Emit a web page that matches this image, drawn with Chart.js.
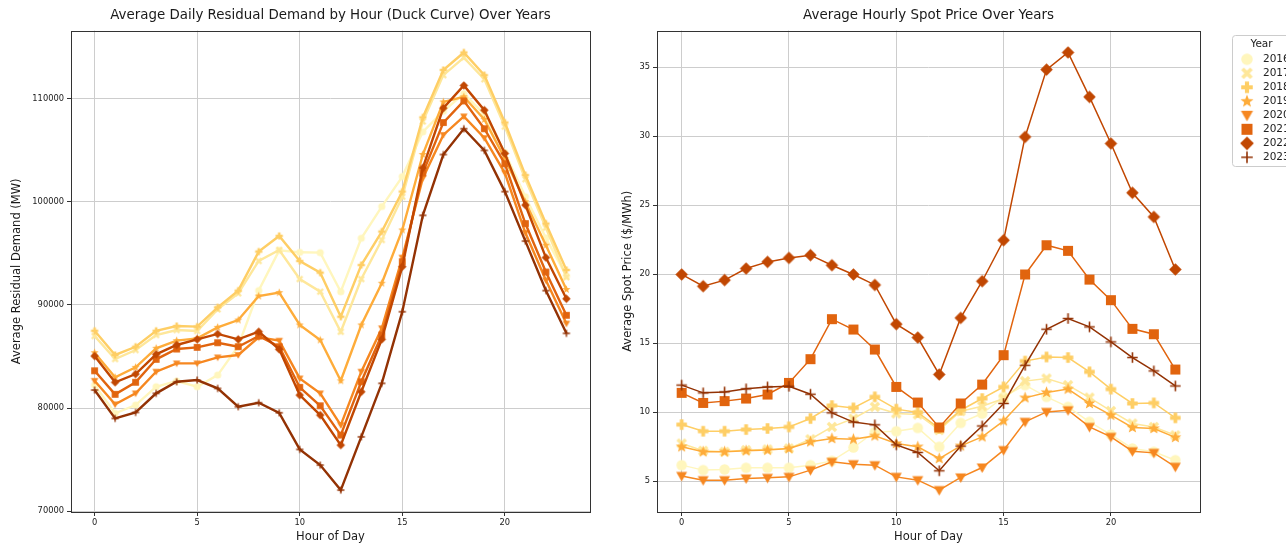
<!DOCTYPE html>
<html lang="en">
<head>
<meta charset="UTF-8">
<title>Residual Demand and Spot Price by Hour</title>
<script src="https://cdn.jsdelivr.net/npm/chart.js"></script>
<style>
  html, body { margin: 0; padding: 0; background: #fff; overflow: hidden; width: 1286px; height: 544px; }
  #demandChart { position: absolute; left: 0; top: 0; }
  #priceChart { position: absolute; left: 600px; top: 0; }
</style>
</head>
<body>
<canvas id="demandChart" width="600" height="544"></canvas>
<canvas id="priceChart" width="700" height="544"></canvas>
<script>
// ---- data ----
const hours = [0, 1, 2, 3, 4, 5, 6, 7, 8, 9, 10, 11, 12, 13, 14, 15, 16, 17, 18, 19, 20, 21, 22, 23];
const years = ['2016', '2017', '2018', '2019', '2020', '2021', '2022', '2023'];
const xTicks = [0, 5, 10, 15, 20];
const demandTicks = [70000, 80000, 90000, 100000, 110000];
const priceTicks = [5, 10, 15, 20, 25, 30, 35];

// average residual demand (MW)
const demand2016 = [82230, 79490, 80290, 82070, 82620, 82070, 83200, 86000, 91400, 95300, 95110, 95080, 91290, 96470, 99550, 102460, 106800, 108800, 110500, 108500, 104800, 100500, 96500, 92800];
const demand2017 = [86990, 84760, 85630, 87090, 87570, 87480, 89580, 91130, 94270, 95340, 92520, 91290, 87400, 92520, 96310, 100500, 107800, 112300, 114000, 111900, 107300, 102200, 97500, 92700];
const demand2018 = [87500, 85150, 85950, 87500, 87960, 87900, 89770, 91390, 95180, 96700, 94270, 93140, 88860, 93880, 97120, 101000, 108200, 112800, 114500, 112300, 107700, 102600, 97900, 93400];
const demand2019 = [85370, 82980, 83950, 85800, 86540, 86760, 87830, 88540, 90870, 91200, 88060, 86600, 82650, 88060, 92110, 97280, 104600, 109700, 110200, 108000, 104200, 100000, 95800, 91500];
const demand2020 = [82650, 80360, 81430, 83530, 84340, 84340, 84920, 85150, 86860, 86540, 82880, 81430, 78350, 83530, 87740, 94600, 102300, 106500, 108300, 106200, 102800, 97000, 92400, 88200];
const demand2021 = [83620, 81330, 82500, 84730, 85730, 85890, 86340, 85950, 86990, 85950, 82010, 80220, 77380, 82550, 87090, 94200, 102800, 107700, 109800, 107100, 103700, 97900, 93200, 89000];
const demand2022 = [85050, 82500, 83300, 85210, 86120, 86670, 87190, 86670, 87410, 85700, 81260, 79320, 76410, 81580, 86670, 93720, 103300, 109100, 111300, 108900, 104700, 99700, 94600, 90600];
const demand2023 = [81750, 79000, 79580, 81430, 82550, 82720, 81910, 80130, 80520, 79540, 75990, 74470, 72040, 77210, 82400, 89350, 98700, 104600, 107100, 105000, 101000, 96200, 91400, 87250];

// average spot price ($/MWh)
const price2016 = [6.16, 5.80, 5.85, 5.97, 5.97, 5.97, 6.16, 6.47, 7.44, 8.57, 8.62, 8.86, 7.49, 9.22, 9.90, 11.11, 11.96, 11.11, 10.38, 9.30, 8.38, 7.37, 7.13, 6.52];
const price2017 = [7.73, 7.20, 7.13, 7.25, 7.30, 7.37, 8.04, 8.93, 9.54, 10.38, 9.90, 9.83, 8.70, 10.07, 10.43, 10.99, 12.25, 12.44, 11.96, 11.06, 10.09, 9.18, 8.93, 8.33];
const price2018 = [9.10, 8.62, 8.62, 8.74, 8.82, 8.93, 9.54, 10.48, 10.31, 11.11, 10.22, 9.98, 8.82, 10.14, 10.99, 11.83, 13.70, 14.00, 13.96, 12.92, 11.67, 10.63, 10.67, 9.59];
const price2019 = [7.49, 7.13, 7.13, 7.20, 7.25, 7.37, 7.85, 8.09, 8.04, 8.28, 7.73, 7.49, 6.64, 7.56, 8.21, 9.37, 11.04, 11.43, 11.67, 10.63, 9.78, 8.89, 8.82, 8.17];
const price2020 = [5.38, 5.07, 5.07, 5.20, 5.24, 5.31, 5.80, 6.40, 6.23, 6.16, 5.31, 5.07, 4.35, 5.27, 5.99, 7.25, 9.30, 10.02, 10.14, 8.93, 8.21, 7.17, 7.05, 6.04];
const price2021 = [11.40, 10.67, 10.80, 10.99, 11.28, 12.12, 13.84, 16.74, 15.99, 14.54, 11.83, 10.70, 8.89, 10.63, 12.00, 14.13, 19.98, 22.10, 21.69, 19.61, 18.12, 16.04, 15.65, 13.09];
const price2022 = [19.98, 19.13, 19.57, 20.41, 20.89, 21.18, 21.38, 20.65, 19.98, 19.22, 16.38, 15.41, 12.73, 16.83, 19.49, 22.46, 29.95, 34.83, 36.07, 32.85, 29.47, 25.90, 24.15, 20.34];
const price2023 = [11.96, 11.40, 11.47, 11.69, 11.83, 11.88, 11.30, 9.95, 9.28, 9.08, 7.63, 7.08, 5.75, 7.54, 9.00, 10.63, 13.40, 16.01, 16.79, 16.18, 15.09, 13.96, 12.99, 11.90];

const demandSeries = [demand2016, demand2017, demand2018, demand2019, demand2020, demand2021, demand2022, demand2023];
const priceSeries = [price2016, price2017, price2018, price2019, price2020, price2021, price2022, price2023];

// ---- styling ----
const FONT = '"DejaVu Sans", Verdana, sans-serif';
const colors = ['#fff6bd', '#fee79a', '#fece65', '#feac3a', '#f68720', '#e1640e', '#c14702', '#933204'];
const shapes = ['o', 'X', 'P', '*', 'v', 's', 'D', '+'];
const bigSize = { o: 10.5, X: 10, P: 10.5, '*': 12.5, v: 11, s: 10, D: 12.5, '+': 10.5 };

// draws a filled matplotlib-like marker into a small canvas used as pointStyle
function makeMarker(shape, color, size, lw) {
  const r = size / 2;
  const dim = Math.ceil(size + 4);
  const c = document.createElement('canvas');
  c.width = dim; c.height = dim;
  const g = c.getContext('2d');
  const m = dim / 2;
  g.fillStyle = color;
  g.strokeStyle = color;
  g.beginPath();
  if (shape === 'o') {
    g.arc(m, m, r, 0, Math.PI * 2);
    g.fill();
  } else if (shape === 's') {
    g.rect(m - r, m - r, 2 * r, 2 * r);
    g.fill();
  } else if (shape === 'D') {
    g.moveTo(m, m - r); g.lineTo(m + r, m); g.lineTo(m, m + r); g.lineTo(m - r, m);
    g.closePath(); g.fill();
  } else if (shape === 'v') {
    g.moveTo(m - r, m - r * 0.75); g.lineTo(m + r, m - r * 0.75); g.lineTo(m, m + r);
    g.closePath(); g.fill();
  } else if (shape === '*') {
    for (let k = 0; k < 10; k++) {
      const a = -Math.PI / 2 + k * Math.PI / 5;
      const rr = k % 2 ? r * 0.42 : r;
      g.lineTo(m + rr * Math.cos(a), m + rr * Math.sin(a));
    }
    g.closePath(); g.fill();
  } else if (shape === 'P' || shape === 'X') {
    g.translate(m, m);
    if (shape === 'X') g.rotate(Math.PI / 4);
    const w = shape === 'X' ? r * 0.34 : r * 0.36;
    const L = shape === 'X' ? r * 1.15 : r;
    const pts = [[-w, -L], [w, -L], [w, -w], [L, -w], [L, w], [w, w], [w, L], [-w, L], [-w, w], [-L, w], [-L, -w], [-w, -w]];
    pts.forEach((p, i) => i ? g.lineTo(p[0], p[1]) : g.moveTo(p[0], p[1]));
    g.closePath(); g.fill();
  } else if (shape === '+') {
    g.lineWidth = lw;
    g.moveTo(m - r, m); g.lineTo(m + r, m);
    g.moveTo(m, m - r); g.lineTo(m, m + r);
    g.stroke();
  }
  return c;
}

function paddedRange(series) {
  const all = series.flat();
  const lo = Math.min(...all), hi = Math.max(...all);
  const pad = (hi - lo) * 0.05;
  return [lo - pad, hi + pad];
}

function buildDatasets(series, scale, lineWidth) {
  return series.map((vals, i) => ({
    label: years[i],
    data: hours.map((h, k) => ({ x: h, y: vals[k] })),
    borderColor: colors[i],
    backgroundColor: colors[i],
    borderWidth: lineWidth,
    tension: 0,
    pointStyle: makeMarker(shapes[i], colors[i], bigSize[shapes[i]] * scale, scale < 1 ? 1.4 : 1.6),
    pointRadius: 4,
    pointHoverRadius: 4,
    order: years.length - 1 - i
  }));
}

// spines on all four sides
const framePlugin = {
  id: 'frame',
  afterDraw(chart) {
    const a = chart.chartArea, ctx = chart.ctx;
    ctx.save();
    ctx.strokeStyle = '#333';
    ctx.lineWidth = 1;
    const l = Math.round(a.left) + 0.5, t = Math.round(a.top) + 0.5;
    ctx.strokeRect(l, t, Math.round(a.right) - Math.round(a.left), Math.round(a.bottom) - Math.round(a.top));
    ctx.restore();
  }
};

const legendMarks = shapes.map((s, i) => makeMarker(s, colors[i], bigSize[s] * 1.1, 1.6));
const yearLegend = {
  id: 'yearLegend',
  afterDraw(chart) {
    const ctx = chart.ctx;
    const bx = chart.chartArea.right + 32, by = 35;
    ctx.save();
    ctx.fillStyle = 'rgba(255,255,255,0.85)';
    ctx.strokeStyle = '#cccccc';
    ctx.lineWidth = 1;
    ctx.beginPath();
    ctx.roundRect(bx + 0.5, by + 0.5, 60, 131, 3);
    ctx.fill();
    ctx.stroke();
    ctx.fillStyle = '#222';
    ctx.font = '10.5px ' + FONT;
    ctx.textBaseline = 'middle';
    ctx.textAlign = 'center';
    ctx.fillText('Year', bx + 29.5, by + 9.5);
    ctx.textAlign = 'left';
    years.forEach((y, i) => {
      const cy = by + 24.3 + i * 14.0;
      const mk = legendMarks[i];
      ctx.drawImage(mk, bx + 15 - mk.width / 2, cy - mk.height / 2);
      ctx.fillText(y, bx + 31, cy);
    });
    ctx.restore();
  }
};

function makeOptions(cfg) {
  const tickFont = { family: FONT, size: 8.3 };
  const labelFont = { family: FONT, size: 11.5 };
  return {
    responsive: false,
    animation: false,
    devicePixelRatio: 1,
    layout: { padding: { left: 0, right: cfg.padRight, top: 0, bottom: 0 } },
    plugins: {
      legend: { display: false },
      tooltip: { enabled: false },
      title: {
        display: true,
        text: cfg.title,
        fullSize: false,
        color: '#1a1a1a',
        font: { family: FONT, size: 13.4, weight: 'normal' },
        padding: { top: 7.5, bottom: 7 }
      }
    },
    scales: {
      x: {
        type: 'linear',
        min: -1.15,
        max: 24.15,
        afterBuildTicks: s => { s.ticks = xTicks.map(v => ({ value: v })); },
        afterFit: s => { s.height = 32; },
        border: { display: false },
        grid: { color: '#cdcdcd', lineWidth: 1, tickLength: 4, tickColor: '#333' },
        ticks: { font: tickFont, color: '#222', padding: 2, maxRotation: 0, callback: v => String(v) },
        title: { display: true, text: 'Hour of Day', color: '#1a1a1a', font: labelFont, padding: { top: 0, bottom: 0 } }
      },
      y: {
        type: 'linear',
        min: cfg.range[0],
        max: cfg.range[1],
        afterBuildTicks: s => { s.ticks = cfg.ticks.map(v => ({ value: v })); },
        afterFit: s => { s.width = cfg.yWidth; },
        border: { display: false },
        grid: { color: '#cdcdcd', lineWidth: 1, tickLength: 4, tickColor: '#333' },
        ticks: { font: tickFont, color: '#222', padding: 3, callback: v => String(v) },
        title: { display: true, text: cfg.yTitle, color: '#1a1a1a', font: labelFont, padding: { top: cfg.yTitlePad, bottom: 0 } }
      }
    }
  };
}

new Chart(document.getElementById('demandChart'), {
  type: 'line',
  data: { datasets: buildDatasets(demandSeries, 0.68, 2.4) },
  options: makeOptions({
    title: 'Average Daily Residual Demand by Hour (Duck Curve) Over Years',
    yTitle: 'Average Residual Demand (MW)',
    ticks: demandTicks,
    range: paddedRange(demandSeries),
    yWidth: 71,
    yTitlePad: 10,
    padRight: 10
  }),
  plugins: [framePlugin]
});

new Chart(document.getElementById('priceChart'), {
  type: 'line',
  data: { datasets: buildDatasets(priceSeries, 1, 1.5) },
  options: makeOptions({
    title: 'Average Hourly Spot Price Over Years',
    yTitle: 'Average Spot Price ($/MWh)',
    ticks: priceTicks,
    range: paddedRange(priceSeries),
    yWidth: 57,
    yTitlePad: 21,
    padRight: 100
  }),
  plugins: [framePlugin, yearLegend]
});
</script>
</body>
</html>
